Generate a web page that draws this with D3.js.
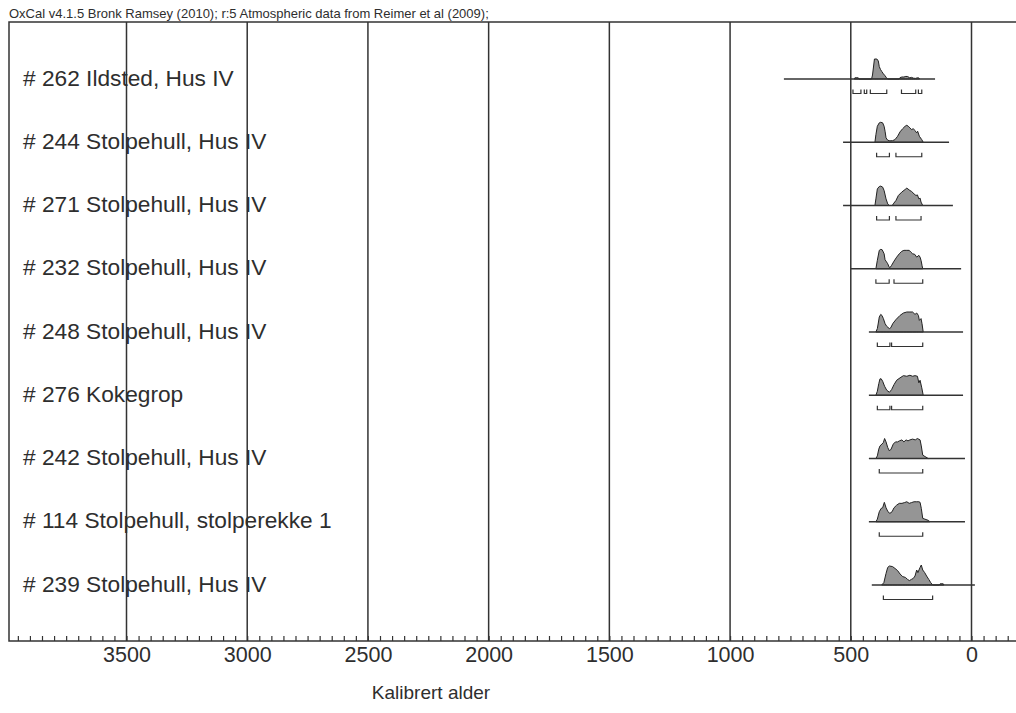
<!DOCTYPE html>
<html>
<head>
<meta charset="utf-8">
<script src="https://cdn.jsdelivr.net/npm/d3@7/dist/d3.min.js"></script>
<style>
  html, body { margin: 0; padding: 0; background: #fff; }
  svg { display: block; }
  text { font-family: "Liberation Sans", Arial, sans-serif; fill: #2e2e2e; }
</style>
</head>
<body>
<svg id="chart" width="1016" height="713"></svg>
<script>
// ---------- DATA ----------
const headerText = "OxCal v4.1.5 Bronk Ramsey (2010); r:5 Atmospheric data from Reimer et al (2009);";
const axisTitle = "Kalibrert alder";
const tickValues = [3500, 3000, 2500, 2000, 1500, 1000, 500, 0];

const labels = [
  "# 262 Ildsted, Hus IV",
  "# 244 Stolpehull, Hus IV",
  "# 271 Stolpehull, Hus IV",
  "# 232 Stolpehull, Hus IV",
  "# 248 Stolpehull, Hus IV",
  "# 276 Kokegrop",
  "# 242 Stolpehull, Hus IV",
  "# 114 Stolpehull, stolperekke 1",
  "# 239 Stolpehull, Hus IV"
];

// extent of each row's horizontal line (cal years)
const lineStart = [777, 532, 532, 499, 425, 425, 425, 425, 413];
const lineEnd   = [151,  93,  77,  43,  35,  35,  27,  27, -14];

// 95% ranges (cal years) shown as brackets
const ranges262 = [[491, 458], [444, 434], [419, 351], [290, 231], [220, 206]];
const ranges244 = [[393, 340], [313, 206]];
const ranges271 = [[393, 340], [313, 209]];
const ranges232 = [[396, 341], [321, 202]];
const ranges248 = [[390, 338], [331, 202]];
const ranges276 = [[390, 338], [331, 202]];
const ranges242 = [[382, 202]];
const ranges114 = [[382, 202]];
const ranges239 = [[365, 161]];

// relative probability densities [cal year, density]
const dens262 = [
  [486, 0], [483, 0.06], [469, 0.06], [466, 0], [414, 0], [410, 0.2], [406, 0.6], [402, 1.0],
  [392, 1.0], [386, 0.9], [382, 0.62], [377, 0.48], [372, 0.38], [365, 0.26], [358, 0.16],
  [352, 0.06], [347, 0], [300, 0], [296, 0.07], [288, 0.1], [280, 0.1], [272, 0.13],
  [264, 0.12], [256, 0.06], [248, 0.08], [240, 0.04], [232, 0.03], [224, 0.06], [219, 0.06], [215, 0]
];
const dens244 = [
  [400, 0], [396, 0.38], [390, 0.8], [382, 0.97], [376, 1.0], [368, 0.97], [362, 0.8],
  [358, 0.55], [354, 0.22], [347, 0.1], [338, 0.07], [327, 0.08], [317, 0.13], [306, 0.3],
  [296, 0.52], [285, 0.68], [275, 0.8], [268, 0.85], [262, 0.8], [255, 0.72], [248, 0.63],
  [241, 0.68], [234, 0.58], [227, 0.47], [223, 0.55], [216, 0.3], [206, 0.13], [200, 0]
];
const dens271 = [
  [400, 0], [396, 0.33], [390, 0.83], [382, 0.95], [376, 0.97], [368, 0.92], [362, 0.75],
  [354, 0.33], [347, 0.08], [343, 0.03], [340, 0], [328, 0], [324, 0.08], [313, 0.25],
  [303, 0.5], [289, 0.67], [275, 0.8], [268, 0.87], [255, 0.75], [248, 0.7], [238, 0.58],
  [230, 0.5], [224, 0.53], [218, 0.33], [213, 0.37], [209, 0.17], [202, 0]
];
const dens232 = [
  [396, 0], [390, 0.42], [382, 0.92], [376, 0.97], [370, 0.95], [362, 0.75], [358, 0.45],
  [354, 0.38], [347, 0.25], [341, 0.08], [338, 0.05], [331, 0.17], [321, 0.38], [310, 0.58],
  [299, 0.75], [289, 0.87], [280, 0.92], [268, 0.92], [258, 0.92], [251, 0.83], [244, 0.75],
  [235, 0.72], [227, 0.58], [218, 0.67], [213, 0.58], [209, 0.42], [205, 0.17], [202, 0]
];
const dens248 = [
  [396, 0], [390, 0.17], [386, 0.45], [382, 0.75], [376, 0.88], [371, 0.83], [365, 0.67],
  [358, 0.42], [351, 0.28], [340, 0.17], [334, 0.22], [326, 0.42], [313, 0.62], [296, 0.83],
  [282, 0.95], [268, 1.0], [255, 1.0], [244, 1.0], [234, 0.88], [227, 0.95], [220, 0.83],
  [216, 0.58], [209, 0.67], [205, 0.42], [200, 0]
];
const dens276 = [
  [396, 0], [390, 0.2], [384, 0.58], [379, 0.82], [374, 0.82], [368, 0.7], [360, 0.45],
  [351, 0.25], [340, 0.15], [331, 0.28], [321, 0.53], [310, 0.75], [296, 0.87], [282, 0.98],
  [268, 0.95], [255, 1.0], [244, 0.95], [234, 0.98], [224, 0.95], [218, 0.62], [213, 0.75],
  [206, 0.37], [200, 0]
];
const dens242 = [
  [396, 0], [390, 0.13], [384, 0.47], [379, 0.63], [371, 0.72], [365, 0.8], [360, 1.0],
  [354, 0.83], [347, 0.55], [340, 0.38], [333, 0.47], [324, 0.72], [315, 0.83], [306, 0.83],
  [299, 0.88], [288, 0.93], [280, 0.83], [271, 0.93], [263, 0.88], [255, 0.93], [244, 0.97],
  [233, 0.93], [224, 1.0], [213, 0.93], [208, 0.63], [202, 0.17], [193, 0.1], [183, 0.03], [179, 0]
];
const dens114 = [
  [396, 0], [390, 0.13], [382, 0.5], [374, 0.67], [368, 0.7], [361, 0.97], [354, 0.7],
  [346, 0.5], [338, 0.42], [329, 0.5], [321, 0.7], [310, 0.83], [299, 0.92], [288, 0.92],
  [277, 0.96], [268, 1.0], [258, 0.92], [248, 0.96], [238, 1.0], [227, 1.0], [218, 1.0],
  [213, 0.97], [208, 0.67], [202, 0.17], [193, 0.13], [179, 0.07], [172, 0]
];
const dens239 = [
  [372, 0], [363, 0.12], [354, 0.58], [347, 0.88], [340, 0.95], [327, 0.92], [317, 0.83],
  [306, 0.72], [296, 0.55], [285, 0.42], [274, 0.38], [265, 0.28], [257, 0.22], [249, 0.28],
  [241, 0.33], [234, 0.45], [227, 0.75], [222, 0.62], [213, 0.88], [208, 1.0], [202, 0.75],
  [194, 0.62], [186, 0.45], [177, 0.28], [169, 0.12], [161, 0],
  [133, 0], [130, 0.06], [117, 0.06], [114, 0]
];

const densities = [dens262, dens244, dens271, dens232, dens248, dens276, dens242, dens114, dens239];
const ranges = [ranges262, ranges244, ranges271, ranges232, ranges248, ranges276, ranges242, ranges114, ranges239];

// ---------- LAYOUT ----------
const W = 1016, H = 713;
const plotLeft = 9, plotTop = 22, plotBottom = 641, plotRight = 1040;
const maxH = 20;          // pixel height of density peak
const bracketOffset = 14.5;

const svg = d3.select("#chart");

const x = d3.scaleLinear().domain([3500, 0]).range([126.5, 971.5]);
const y = d3.scalePoint().domain(d3.range(labels.length)).range([79, 585]);
const h = d3.scaleLinear().domain([0, 1]).range([0, maxH]);

const stroke = "#333";

// header
svg.append("text")
  .attr("x", 9).attr("y", 18)
  .style("font-size", "13px")
  .text(headerText);

// frame
svg.append("path")
  .attr("d", `M${plotRight},${plotTop}H${plotLeft}V${plotBottom}H${plotRight}`)
  .attr("fill", "none").attr("stroke", stroke).attr("stroke-width", 1.5);

// grid lines
svg.append("g").selectAll("line").data(tickValues).join("line")
  .attr("x1", d => x(d)).attr("x2", d => x(d))
  .attr("y1", plotTop).attr("y2", plotBottom)
  .attr("stroke", stroke).attr("stroke-width", 1.5);

// minor ticks
const yearLeft = x.invert(plotLeft), yearRight = x.invert(W);
const minorTicks = d3.range(Math.ceil(yearRight / 50) * 50, yearLeft, 50);
const minorAxis = d3.axisBottom(x).tickValues(minorTicks).tickSizeInner(-5).tickSizeOuter(0).tickFormat("");
const gMinor = svg.append("g").attr("transform", `translate(0,${plotBottom})`).call(minorAxis);
gMinor.select(".domain").remove();
gMinor.selectAll(".tick line").attr("stroke", stroke).attr("stroke-width", 1.2);

// labelled axis
const labelAxis = d3.axisBottom(x).tickValues(tickValues).tickSize(0).tickPadding(0).tickFormat(d3.format("d"));
const gAxis = svg.append("g").attr("transform", `translate(0,${plotBottom})`).call(labelAxis);
gAxis.select(".domain").remove();
gAxis.selectAll(".tick text")
  .attr("y", 21).attr("dy", 0)
  .style("font-size", "21.5px")
  .style("font-family", "'Liberation Sans', Arial, sans-serif")
  .attr("fill", "#2e2e2e");

// axis title
svg.append("text")
  .attr("x", 431).attr("y", 699)
  .attr("text-anchor", "middle")
  .style("font-size", "19px")
  .text(axisTitle);

// row labels
svg.append("g").selectAll("text").data(labels).join("text")
  .attr("x", 23).attr("y", (d, i) => y(i) + 6.5)
  .style("font-size", "22.7px")
  .text(d => d);

// distributions
const area = d3.area()
  .x(d => x(d[0]))
  .y0(0)
  .y1(d => -h(d[1]));

const rows = svg.append("g").selectAll("g").data(densities).join("g")
  .attr("transform", (d, i) => `translate(0,${y(i)})`);

rows.append("path")
  .attr("d", d => area(d))
  .attr("fill", "#959595")
  .attr("stroke", "#222")
  .attr("stroke-width", 1)
  .attr("stroke-linejoin", "round");

rows.append("line")
  .attr("x1", (d, i) => x(lineStart[i]))
  .attr("x2", (d, i) => x(lineEnd[i]))
  .attr("y1", 0).attr("y2", 0)
  .attr("stroke", stroke).attr("stroke-width", 1.4);

rows.each(function(d, i) {
  d3.select(this).selectAll("path.br").data(ranges[i]).join("path")
    .attr("class", "br")
    .attr("d", r => `M${x(r[0])},${bracketOffset - 4}V${bracketOffset}H${x(r[1])}V${bracketOffset - 4}`)
    .attr("fill", "none")
    .attr("stroke", stroke)
    .attr("stroke-width", 1.2);
});
</script>
</body>
</html>
